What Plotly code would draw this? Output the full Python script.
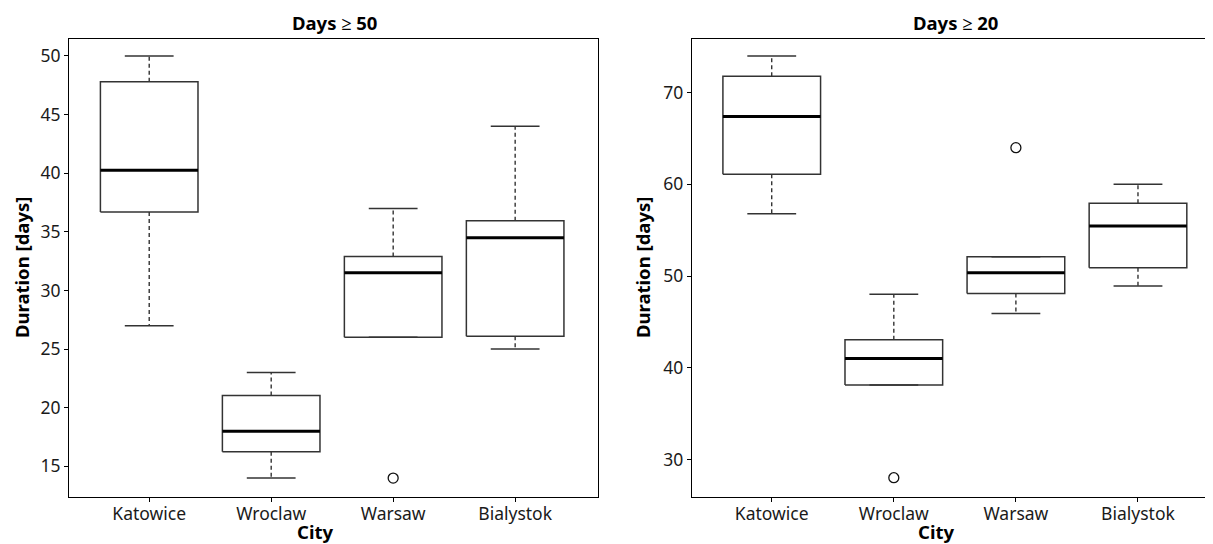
import plotly.graph_objects as go

cities = ["Katowice", "Wroclaw", "Warsaw", "Bialystok"]

# Panel 1: Days >= 50
p1_lower = [27.0, 14.0, 26.0, 25.0]
p1_q1 = [36.7, 16.25, 26.0, 26.1]
p1_median = [40.25, 18.0, 31.5, 34.5]
p1_q3 = [47.8, 21.05, 32.9, 35.95]
p1_upper = [50.0, 23.0, 37.0, 44.0]
p1_out_city = ["Warsaw"]
p1_out_val = [14.0]

# Panel 2: Days >= 20
p2_lower = [56.8, 38.1, 45.9, 48.9]
p2_q1 = [61.1, 38.1, 48.1, 50.9]
p2_median = [67.4, 41.0, 50.35, 55.45]
p2_q3 = [71.8, 43.05, 52.1, 57.95]
p2_upper = [74.0, 48.0, 52.1, 60.0]
p2_out_city = ["Wroclaw", "Warsaw"]
p2_out_val = [28.0, 64.0]

titles = ["Days \u2265 50", "Days \u2265 20"]

W, H = 1213, 544
OFF = 8  # page body margin
FONT = "Noto Sans"
BOXW = 0.8
CAPW = 0.4

fig = go.Figure()


def add_panel(xa, ya, lower, q1, med, q3, upper, oc, ov):
    bx, by, mx, my, wx, wy, cx, cy = [], [], [], [], [], [], [], []
    for i in range(len(cities)):
        h = BOXW / 2
        bx += [i - h, i + h, i + h, i - h, i - h, None]
        by += [q1[i], q1[i], q3[i], q3[i], q1[i], None]
        mx += [i - h, i + h, None]
        my += [med[i], med[i], None]
        wx += [i, i, None, i, i, None]
        wy += [q3[i], upper[i], None, q1[i], lower[i], None]
        c = CAPW / 2
        cx += [i - c, i + c, None, i - c, i + c, None]
        cy += [upper[i], upper[i], None, lower[i], lower[i], None]
    common = dict(xaxis=xa, yaxis=ya, showlegend=False, hoverinfo="skip", mode="lines")
    fig.add_trace(go.Scatter(x=wx, y=wy, line=dict(color="#222", width=1.3, dash="4px,3px"), **common))
    fig.add_trace(go.Scatter(x=cx, y=cy, line=dict(color="#333", width=1.5), **common))
    fig.add_trace(go.Scatter(x=bx, y=by, line=dict(color="#333", width=1.5), **common))
    fig.add_trace(go.Scatter(x=mx, y=my, line=dict(color="#000", width=3), **common))
    fig.add_trace(go.Scatter(
        x=[cities.index(c) for c in oc], y=ov, mode="markers", xaxis=xa, yaxis=ya,
        showlegend=False, hoverinfo="skip",
        marker=dict(symbol="circle-open", size=10, color="#111", line=dict(width=1.3)),
    ))


add_panel("x", "y", p1_lower, p1_q1, p1_median, p1_q3, p1_upper, p1_out_city, p1_out_val)
add_panel("x2", "y2", p2_lower, p2_q1, p2_median, p2_q3, p2_upper, p2_out_city, p2_out_val)


def px(x):
    return (x - OFF) / W


def py(y):
    return 1 - (y - OFF) / H


ydom = [py(496.7), py(39.3)]
tickfont = dict(family=FONT, size=17.5, color="#1a1a1a")
axis_common = dict(showgrid=False, zeroline=False, showline=True, linecolor="#000", linewidth=1.3,
                   ticks="outside", ticklen=4, tickcolor="#000", tickwidth=1, tickfont=tickfont)

fig.update_layout(
    width=W, height=H,
    margin=dict(l=0, r=0, t=0, b=0),
    paper_bgcolor="white", plot_bgcolor="white",
    xaxis=dict(domain=[px(69.3), px(598.1)], range=[-0.655, 3.68], tickvals=list(range(4)),
               ticktext=cities, mirror=True, ticklabelstandoff=-3, **axis_common),
    yaxis=dict(domain=ydom, range=[12.41, 51.42], tickvals=[15, 20, 25, 30, 35, 40, 45, 50],
               mirror=True, **axis_common),
    xaxis2=dict(domain=[px(691.9), 1.0], range=[-0.654, 3.68], tickvals=list(range(4)),
                ticktext=cities, mirror=True, anchor="y2", ticklabelstandoff=-3, **axis_common),
    yaxis2=dict(domain=ydom, range=[25.93, 75.82], tickvals=[30, 40, 50, 60, 70],
                anchor="x2", **axis_common),
)

bold = dict(family=FONT, size=18.5, color="#000")
ann = []
for xc, t in [(334, titles[0]), (956, titles[1])]:
    ann.append(dict(text="<b>%s</b>" % t, x=px(xc), y=py(22.5), xref="paper", yref="paper",
                    showarrow=False, font=bold, xanchor="center", yanchor="middle"))
for xc in [315, 936]:
    ann.append(dict(text="<b>City</b>", x=px(xc), y=py(531), xref="paper", yref="paper",
                    showarrow=False, font=bold, xanchor="center", yanchor="middle"))
for xc in [21, 642]:
    ann.append(dict(text="<b>Duration [days]</b>", x=px(xc), y=(ydom[0] + ydom[1]) / 2, xref="paper",
                    yref="paper", showarrow=False, font=bold, textangle=-90,
                    xanchor="center", yanchor="middle"))
fig.update_layout(annotations=ann)

fig.write_html("out.html")
